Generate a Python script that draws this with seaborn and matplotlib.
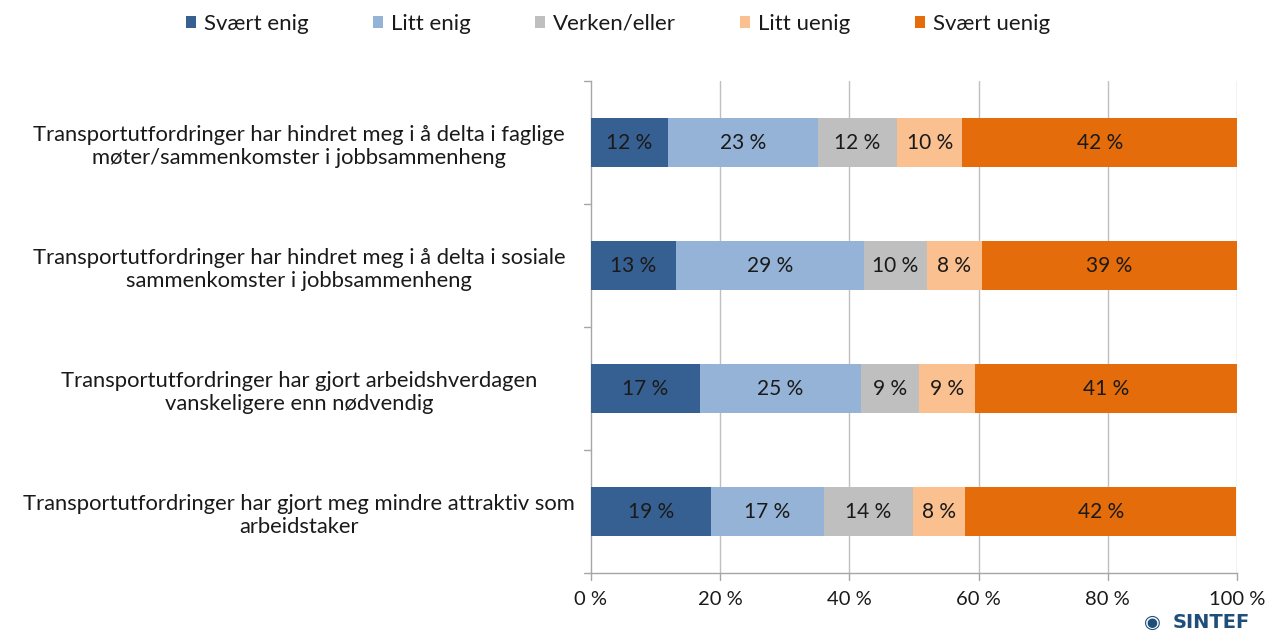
import matplotlib
matplotlib.use("Agg")
import matplotlib.pyplot as plt
import seaborn as sns
import pandas as pd
import numpy as np
from matplotlib.transforms import blended_transform_factory

sns.set_theme(style="white")
plt.rcParams['font.family'] = ['Lato', 'DejaVu Sans']

statements = [
    "Transportutfordringer har hindret meg i å delta i faglige\nmøter/sammenkomster i jobbsammenheng",
    "Transportutfordringer har hindret meg i å delta i sosiale\nsammenkomster i jobbsammenheng",
    "Transportutfordringer har gjort arbeidshverdagen\nvanskeligere enn nødvendig",
    "Transportutfordringer har gjort meg mindre attraktiv som\narbeidstaker",
]
categories = ["Svært enig", "Litt enig", "Verken/eller", "Litt uenig", "Svært uenig"]
svaert_enig = [11.9, 13.1, 16.8, 18.6]
litt_enig = [23.2, 29.2, 25.0, 17.4]
verken = [12.3, 9.7, 8.9, 13.8]
litt_uenig = [10.1, 8.5, 8.7, 8.1]
svaert_uenig = [42.5, 39.5, 40.6, 42.0]
labels_svaert_enig = ["12 %", "13 %", "17 %", "19 %"]
labels_litt_enig = ["23 %", "29 %", "25 %", "17 %"]
labels_verken = ["12 %", "10 %", "9 %", "14 %"]
labels_litt_uenig = ["10 %", "8 %", "9 %", "8 %"]
labels_svaert_uenig = ["42 %", "39 %", "41 %", "42 %"]
xticks = [0, 20, 40, 60, 80, 100]
xtick_labels = ["0 %", "20 %", "40 %", "60 %", "80 %", "100 %"]

colors = ["#376092", "#95B3D7", "#BFBFBF", "#FAC090", "#E46C0A"]
series = [svaert_enig, litt_enig, verken, litt_uenig, svaert_uenig]
series_labels = [labels_svaert_enig, labels_litt_enig, labels_verken,
                 labels_litt_uenig, labels_svaert_uenig]

fig = plt.figure(figsize=(12.74, 6.34), dpi=100)
ax = fig.add_axes([591/1274, 1 - 573/634, (1237-591)/1274, (573-81)/634])

left = np.zeros(len(statements))
for cat, vals, labs, col in zip(categories, series, series_labels, colors):
    ax.barh(np.arange(len(statements)), vals, left=left, height=0.4,
            color=col, label=cat, zorder=3, linewidth=0)
    for i, (v, lab) in enumerate(zip(vals, labs)):
        ax.text(left[i] + v / 2, i, lab, ha="center", va="center",
                fontsize=15, color="#1a1a1a", zorder=4)
    left += np.array(vals)

ax.set_xlim(0, 100)
ax.set_ylim(len(statements) - 0.5, -0.5)
ax.set_xticks(xticks)
ax.set_xticklabels(xtick_labels, fontsize=14.5, color="#1a1a1a")
ax.set_yticks(np.arange(len(statements)))
ax.set_yticklabels(statements, fontsize=15.8, color="#1a1a1a", ha="center",
                   linespacing=1.2)
ax.tick_params(axis="y", length=0, pad=210)
ax.tick_params(axis="x", length=0, pad=13)

ax.grid(False)
for x in xticks[1:]:
    ax.axvline(x, color="#BFBFBF", linewidth=1, zorder=1)
for s in ["top", "right"]:
    ax.spines[s].set_visible(False)
for s in ["left", "bottom"]:
    ax.spines[s].set_color("#A6A6A6")
    ax.spines[s].set_linewidth(1)

# Excel-style tick marks
tb = blended_transform_factory(ax.transData, ax.transAxes)
for x in xticks:
    ax.plot([x, x], [0, -0.014], transform=tb, color="#A6A6A6", lw=1, clip_on=False)
tl = blended_transform_factory(ax.transAxes, ax.transData)
for y in [-0.5, 0.5, 1.5, 2.5, 3.5]:
    ax.plot([0, -0.011], [y, y], transform=tl, color="#A6A6A6", lw=1, clip_on=False)

handles, lbls = ax.get_legend_handles_labels()
leg = fig.legend(handles, lbls, loc="center", bbox_to_anchor=(618/1274, 1 - 24/634),
                 ncol=5, frameon=False, fontsize=16, handlelength=0.45,
                 handleheight=0.45, handletextpad=0.35, columnspacing=2.9)
for t in leg.get_texts():
    t.set_color("#1a1a1a")

fig.text(1250/1274, 1 - 623/634, "SINTEF", ha="right", va="center",
         fontsize=14, fontweight="heavy", color="#1F4E79", family="DejaVu Sans")
fig.text(1152/1274, 1 - 622/634, "◉", ha="center", va="center",
         fontsize=14, color="#1F4E79", family="DejaVu Sans")

fig.savefig("out.png", dpi=100)
